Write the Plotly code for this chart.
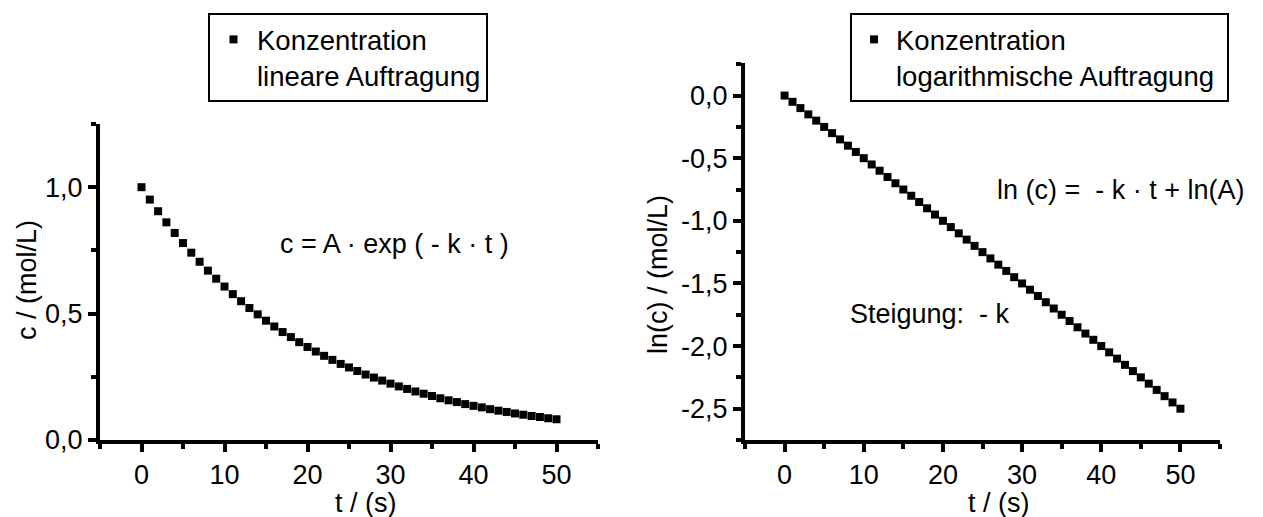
import plotly.graph_objects as go

# ---- data ----
t_values = list(range(0, 51))
conc_linear = [1.000, 0.951, 0.905, 0.861, 0.819, 0.779, 0.741, 0.705, 0.670, 0.638,
               0.607, 0.577, 0.549, 0.522, 0.497, 0.472, 0.449, 0.427, 0.407, 0.387,
               0.368, 0.350, 0.333, 0.317, 0.301, 0.287, 0.273, 0.259, 0.247, 0.235,
               0.223, 0.212, 0.202, 0.192, 0.183, 0.174, 0.165, 0.157, 0.150, 0.142,
               0.135, 0.129, 0.122, 0.116, 0.111, 0.105, 0.100, 0.095, 0.091, 0.086,
               0.082]
conc_log = [0.00, -0.05, -0.10, -0.15, -0.20, -0.25, -0.30, -0.35, -0.40, -0.45,
            -0.50, -0.55, -0.60, -0.65, -0.70, -0.75, -0.80, -0.85, -0.90, -0.95,
            -1.00, -1.05, -1.10, -1.15, -1.20, -1.25, -1.30, -1.35, -1.40, -1.45,
            -1.50, -1.55, -1.60, -1.65, -1.70, -1.75, -1.80, -1.85, -1.90, -1.95,
            -2.00, -2.05, -2.10, -2.15, -2.20, -2.25, -2.30, -2.35, -2.40, -2.45,
            -2.50]

x_tickvals = [0, 10, 20, 30, 40, 50]
x_ticktext = ["0", "10", "20", "30", "40", "50"]
y1_tickvals = [0.0, 0.5, 1.0]
y1_ticktext = ["0,0", "0,5", "1,0"]
y2_tickvals = [0.0, -0.5, -1.0, -1.5, -2.0, -2.5]
y2_ticktext = ["0,0", "-0,5", "-1,0", "-1,5", "-2,0", "-2,5"]

legend1_name = "Konzentration<br>lineare Auftragung"
legend2_name = "Konzentration<br>logarithmische Auftragung\u00a0"

FONT = "Liberation Sans, Arial, Helvetica, sans-serif"
FS = 27
W, H = 1263, 517

fig = go.Figure()
fig.add_trace(go.Scatter(x=t_values, y=conc_linear, mode="markers",
                         marker=dict(symbol="square", size=8, color="black"),
                         name=legend1_name, xaxis="x", yaxis="y", legend="legend"))
fig.add_trace(go.Scatter(x=t_values, y=conc_log, mode="markers",
                         marker=dict(symbol="square", size=8, color="black"),
                         name=legend2_name, xaxis="x2", yaxis="y2", legend="legend2"))

axis_common = dict(showline=True, linecolor="black", linewidth=4, ticks="outside",
                   ticklen=8, tickwidth=4, tickcolor="black", showgrid=False,
                   zeroline=False, tickfont=dict(family=FONT, size=FS, color="black"),
                   mirror=False, automargin=False)
minor_x = dict(dtick=5, tick0=0, ticks="outside", ticklen=5, tickwidth=4, tickcolor="black")
minor_y = dict(dtick=0.25, tick0=0, ticks="outside", ticklen=5, tickwidth=4, tickcolor="black")

fig.update_layout(
    template="none",
    width=W, height=H,
    margin=dict(l=0, r=0, t=0, b=0, pad=0, autoexpand=False),
    paper_bgcolor="white", plot_bgcolor="white",
    font=dict(family=FONT, size=FS, color="black"),
    xaxis=dict(domain=[100 / W, 598 / W], range=[-5, 55], anchor="y",
               tickmode="array", tickvals=x_tickvals, ticktext=x_ticktext,
               minor=minor_x, **axis_common),
    yaxis=dict(domain=[(H - 440) / H, (H - 124) / H], range=[0, 1.25], anchor="x",
               tickmode="array", tickvals=y1_tickvals, ticktext=y1_ticktext,
               minor=minor_y, **axis_common),
    xaxis2=dict(domain=[745 / W, 1220 / W], range=[-5, 55], anchor="y2",
                tickmode="array", tickvals=x_tickvals, ticktext=x_ticktext,
                minor=minor_x, **axis_common),
    yaxis2=dict(domain=[(H - 440) / H, (H - 63) / H], range=[-2.75, 0.26], anchor="x2",
                tickmode="array", tickvals=y2_tickvals, ticktext=y2_ticktext,
                minor=minor_y, **axis_common),
    legend=dict(x=208 / W, y=1 - 13 / H, xanchor="left", yanchor="top",
                bordercolor="black", borderwidth=2, bgcolor="white", itemwidth=37,
                font=dict(family=FONT, size=27.5, color="black"), valign="top"),
    legend2=dict(x=850 / W, y=1 - 13 / H, xanchor="left", yanchor="top",
                 bordercolor="black", borderwidth=2, bgcolor="white", itemwidth=34,
                 font=dict(family=FONT, size=27.5, color="black"), valign="top"),
    showlegend=True,
)

annots = [
    # axis titles
    dict(text="c / (mol/L)", xref="paper", yref="paper", x=27 / W, y=(H - 280) / H,
         textangle=-90, showarrow=False, xanchor="center", yanchor="middle"),
    dict(text="ln(c) / (mol/L)", xref="paper", yref="paper", x=658 / W, y=(H - 275) / H,
         textangle=-90, showarrow=False, xanchor="center", yanchor="middle"),
    dict(text="t / (s)", xref="x", yref="paper", x=27.1, y=(H - 503) / H,
         showarrow=False, xanchor="center", yanchor="middle"),
    dict(text="t / (s)", xref="x2", yref="paper", x=27.1, y=(H - 503) / H,
         showarrow=False, xanchor="center", yanchor="middle"),
    # formulas
    dict(text="c = A · exp ( - k · t )", xref="x", yref="y", x=30.5, y=0.774,
         showarrow=False, xanchor="center", yanchor="middle"),
    dict(text="ln (c) = \u00a0- k · t + ln(A)", xref="x2", yref="y2", x=42.5, y=-0.75,
         showarrow=False, xanchor="center", yanchor="middle"),
    dict(text="Steigung: \u00a0- k", xref="x2", yref="y2", x=18.4, y=-1.74,
         showarrow=False, xanchor="center", yanchor="middle"),
]
for a in annots:
    a["font"] = dict(family=FONT, size=FS, color="black")
fig.update_layout(annotations=annots)

fig.write_html("out.html",
               config={"displayModeBar": False},
               post_script="document.body.style.margin='0';document.body.style.overflow='hidden';")
